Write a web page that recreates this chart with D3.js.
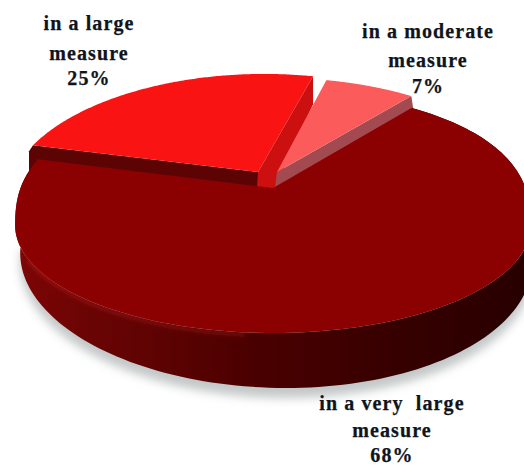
<!DOCTYPE html>
<html>
<head>
<meta charset="utf-8">
<script src="https://cdn.jsdelivr.net/npm/d3@7/dist/d3.min.js"></script>
<style>
  html, body { margin: 0; padding: 0; background: #fff; overflow: hidden; }
  text { font-family: "Liberation Serif", serif; font-weight: 700; font-size: 20px; letter-spacing: 1.1px; fill: #10141c; text-anchor: middle; stroke: #10141c; stroke-width: 0.25px; }
</style>
</head>
<body>
<svg id="chart" width="524" height="465"></svg>
<script>
// Survey shares, in drawing order around the disc
const categories = ["in a very large measure", "in a large measure", "in a moderate measure"];
const shares = [68, 25, 7];
const labelLines = [["in a very  large", "measure"], ["in a large", "measure"], ["in a moderate", "measure"]];
const topColors = ["#8b0000", "#f91313", "#fb5b5b"];

const rad = d => d * Math.PI / 180;

// Perspective disc: the far edge is compressed by the factor p
const p = 0.193;
const topFace = { cx: 273, cy: 188, rx: 253, ry: 117, tilt: 0 };
const baseFace = { cx: 276, cy: 233, rx: 251, ry: 125, tilt: 0.02 };
const project = (a, face) => {
  const X = Math.sin(a), Y = Math.cos(a), w = 1 + p * Y;
  const x = face.cx + face.rx * X / w;
  return [x, face.cy - face.ry * Y / w + face.tilt * (x - face.cx)];
};

// The main slice's rim is fuller than a true ellipse: flatter in front, higher at the back
const ellipseMid = 211, ellipseHalf = 122, waist = 225;
const fullerRim = ([x, y]) => {
  const t = (y - ellipseMid) / ellipseHalf;
  return [x, t >= 0 ? waist + 108 * t : waist - 135 * Math.pow(-t, 0.8)];
};

const pie = d3.pie().sort(null).startAngle(rad(39)).endAngle(rad(399));
const [mainArc, largeArc, modArc] = pie(shares);

const svg = d3.select("#chart");
const defs = svg.append("defs");
defs.append("filter").attr("id", "soft").attr("x", "-20%").attr("y", "-20%").attr("width", "140%").attr("height", "140%")
  .append("feGaussianBlur").attr("stdDeviation", 5);
defs.append("filter").attr("id", "glow").attr("x", "-20%").attr("y", "-50%").attr("width", "140%").attr("height", "200%")
  .append("feGaussianBlur").attr("stdDeviation", 2.2);

const wallGrad = defs.append("linearGradient").attr("id", "wall")
  .attr("gradientUnits", "userSpaceOnUse").attr("x1", 15).attr("x2", 525).attr("y1", 0).attr("y2", 0);
[[0, "#7e0505"], [0.15, "#6a0404"], [0.45, "#4c0000"], [0.7, "#3a0000"], [1, "#280000"]]
  .forEach(([o, c]) => wallGrad.append("stop").attr("offset", o).attr("stop-color", c));

const line = d3.line();
const angles = (a0, a1, n = 160) => d3.range(n + 1).map(i => a0 + (a1 - a0) * i / n);
const rimPath = (a0, a1, face, offset = [0, 0], sx = 1, sy = 1, skew = 0) =>
  angles(a0, a1).map(a => {
    const q = project(a, face);
    return [
      face.cx + (q[0] - face.cx) * sx + skew * (q[1] - face.cy) + offset[0],
      face.cy + (q[1] - face.cy) * sy + offset[1]
    ];
  });
const mainRim = (a0, a1) => rimPath(a0, a1, topFace).map(fullerRim);

// Soft shadow under the base
svg.append("path")
  .attr("d", line(rimPath(rad(95), rad(265), baseFace, [0, 10])) + "Z")
  .attr("fill", "#c4c8c8").attr("filter", "url(#soft)");

// Slices pulled away from the main one, each with its own cut walls
const large = { offset: [-15, -16], sx: 0.965, sy: 1, skew: -0.063 };
const moder = { offset: [4, -16], sx: 0.97, sy: 0.96, skew: 0 };
const apexOf = s => [topFace.cx + s.offset[0], topFace.cy + s.offset[1]];
const sliceRim = (s, a0, a1) => rimPath(a0, a1, topFace, s.offset, s.sx, s.sy, s.skew);
const rimOf = (s, a) => sliceRim(s, a, a)[0];
const shift = (q, dx, dy) => [q[0] + dx, q[1] + dy];

// Front-left cut wall of the large slice
const lApex = apexOf(large), lLeft = rimOf(large, largeArc.startAngle), lRight = rimOf(large, largeArc.endAngle);
svg.append("path")
  .attr("d", line([lLeft, lApex, shift(lApex, 0, 16), shift(lLeft, -4, 30), shift(lLeft, -4, 6)]) + "Z")
  .attr("fill", "#5c0404");

// Right cut wall of the large slice
svg.append("path")
  .attr("d", line([lRight, lApex, shift(lApex, -1, 16), shift(lApex, 17, 16), shift(lRight, 0, 28)]) + "Z")
  .attr("fill", "#cc1010");

// Cut wall of the moderate slice
const mApex = apexOf(moder), mRight = rimOf(moder, modArc.endAngle);
svg.append("path")
  .attr("d", line([mRight, mApex, shift(mApex, -2, 16), shift(mRight, 2, 13)]) + "Z")
  .attr("fill", "#a34a50");

// Main slice: outer wall, then its top face and the lit edge
svg.append("path")
  .attr("d", line(mainRim(mainArc.startAngle, mainArc.endAngle)
    .concat(rimPath(mainArc.endAngle, mainArc.startAngle, baseFace))) + "Z")
  .attr("fill", "url(#wall)");

svg.append("path")
  .attr("d", line([[topFace.cx, topFace.cy]].concat(mainRim(mainArc.startAngle, mainArc.endAngle))) + "Z")
  .attr("fill", topColors[0]);

svg.append("path")
  .attr("d", line(mainRim(rad(185), rad(242)).map(q => shift(q, 0, 2))))
  .attr("fill", "none").attr("stroke", "#b52020").attr("stroke-width", 2.5)
  .attr("stroke-opacity", 0.6).attr("filter", "url(#glow)");

// Top faces of the pulled slices
[[largeArc, large, 1], [modArc, moder, 2]].forEach(([d, s, i]) => {
  svg.append("path")
    .attr("d", line([apexOf(s)].concat(sliceRim(s, d.startAngle, d.endAngle))) + "Z")
    .attr("fill", topColors[i]);
});

// Labels: wrapped category name, then the share
const labelPlace = [
  { x: 392, y: [410, 437, 462] },
  { x: 89, y: [30, 60, 85] },
  { x: 428, y: [38, 67, 93] }
];
const labels = svg.append("g").selectAll("text").data(categories).join("text")
  .attr("aria-label", d => d);
labels.each(function (d, i) {
  const rows = labelLines[i].concat(d3.format("d")(shares[i]) + "%");
  d3.select(this).selectAll("tspan").data(rows).join("tspan")
    .style("white-space", "pre")
    .attr("x", labelPlace[i].x)
    .attr("y", (r, j) => labelPlace[i].y[j])
    .text(r => r);
});
</script>
</body>
</html>
